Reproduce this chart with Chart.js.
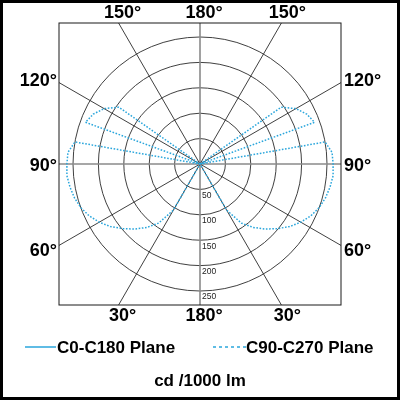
<!DOCTYPE html>
<html>
<head>
<meta charset="utf-8">
<script src="https://cdn.jsdelivr.net/npm/chart.js@4/dist/chart.umd.min.js"></script>
<style>
  html, body { margin: 0; padding: 0; background: #ffffff; }
  #wrap { width: 400px; height: 400px; }
</style>
</head>
<body>
<div id="wrap"><canvas id="polarChart" width="400" height="400"></canvas></div>
<script>
// ===================================
// Light distribution curve (cd / 1000 lm)
// Gamma angle 0 = straight down, 180 = straight up
// ===================================

// gamma angles, 5 degree steps from 0 to 180
const GAMMA = [0, 5, 10, 15, 20, 25, 30, 35, 40, 45, 50, 55, 60, 65, 70, 75, 80, 85, 90,
               95, 100, 105, 110, 115, 120, 125, 130, 135, 140, 145, 150, 155, 160, 165, 170, 175, 180];

// C90-C270 plane (dotted)
const C90_C270 = [0, 0, 0, 0, 0, 0, 105, 142, 163, 181, 198, 215, 229, 241, 250, 256, 260, 263, 262,
                  261, 250, 0, 240, 232, 218, 195, 0, 0, 0, 0, 0, 0, 0, 0, 0, 0, 0];

// C0-C180 plane (solid) - stays at the centre in the picture
const C0_C180 = [0, 0, 0, 0, 0, 0, 0, 0, 0, 0, 0, 0, 0, 0, 0, 0, 0, 0, 0,
                 0, 0, 0, 0, 0, 0, 0, 0, 0, 0, 0, 0, 0, 0, 0, 0, 0, 0];

// intensity rings
const RING_TICKS = [50, 100, 150, 200, 250];

// angle labels round the frame
const TOP_LABELS = ['150°', '180°', '150°'];
const SIDE_LABELS = ['120°', '90°', '60°'];
const BOTTOM_LABELS = ['30°', '180°', '30°'];

const SERIES_NAMES = ['C0-C180 Plane', 'C90-C270 Plane'];
const UNIT_TEXT = 'cd /1000 lm';

const CURVE_COLOR = '#2aa6dc';
const BOLD_FONT = 'bold 17px "Liberation Sans", Arial, sans-serif';

// ===================================
// Build the full circle (clockwise from top)
// right half = C90 side, left half = C270 side
// ===================================
function buildCircle(values) {
    const out = [];
    for (let i = 0; i < 72; i++) {
        const g = i <= 36 ? 180 - i * 5 : i * 5 - 180;
        out.push(values[GAMMA.indexOf(g)]);
    }
    return out;
}

const circleLabels = [];
for (let i = 0; i < 72; i++) {
    circleLabels.push(i <= 36 ? 180 - i * 5 : i * 5 - 180);
}

// ===================================
// Frame, spokes, labels and legend plugin
// ===================================
const framePlugin = {
    id: 'framePlugin',
    beforeDraw(chart) {
        const ctx = chart.ctx;
        ctx.save();
        ctx.fillStyle = '#ffffff';
        ctx.fillRect(0, 0, chart.width, chart.height);
        ctx.restore();
    },
    beforeDatasetsDraw(chart) {
        const ctx = chart.ctx;
        const r = chart.scales.r;
        const cx = r.xCenter, cy = r.yCenter;
        const half = r.drawingArea + 14;

        ctx.save();
        // spokes every 30 degrees, out to the square box
        for (let k = 0; k < 72; k += 6) {
            const a = r.getIndexAngle(k) - Math.PI / 2;
            const dx = Math.cos(a), dy = Math.sin(a);
            const t = half / Math.max(Math.abs(dx), Math.abs(dy));
            const main = k % 18 === 0;
            ctx.beginPath();
            ctx.strokeStyle = main ? '#8a8a8a' : '#2a2a2a';
            ctx.lineWidth = main ? 1.6 : 0.9;
            ctx.moveTo(cx, cy);
            ctx.lineTo(cx + dx * t, cy + dy * t);
            ctx.stroke();
        }

        // square box
        ctx.strokeStyle = '#1a1a1a';
        ctx.lineWidth = 1;
        ctx.strokeRect(cx - half, cy - half, half * 2, half * 2);

        // ring values below the centre
        ctx.fillStyle = '#222222';
        ctx.font = '8.5px "Liberation Sans", Arial, sans-serif';
        ctx.textAlign = 'left';
        ctx.textBaseline = 'middle';
        RING_TICKS.forEach(v => {
            const d = r.getDistanceFromCenterForValue(v);
            ctx.fillText(String(v), cx + 2, cy + d + 6);
        });
        ctx.restore();
    },
    afterDraw(chart) {
        const ctx = chart.ctx;
        const r = chart.scales.r;
        const cx = r.xCenter, cy = r.yCenter;
        const half = r.drawingArea + 14;
        const side = half * Math.tan(Math.PI / 6);

        ctx.save();
        ctx.fillStyle = '#000000';
        ctx.font = 'bold 18px "Liberation Sans", Arial, sans-serif';
        ctx.textBaseline = 'middle';

        // top and bottom labels
        ctx.textAlign = 'center';
        const xs = [cx - side + 4, cx + 4, cx + side + 6];
        TOP_LABELS.forEach((t, i) => ctx.fillText(t, xs[i], cy - half - 10));
        BOTTOM_LABELS.forEach((t, i) => ctx.fillText(t, xs[i], cy + half + 11));

        // side labels
        const ys = [cy - side - 2, cy + 2, cy + side + 6];
        ctx.textAlign = 'right';
        SIDE_LABELS.forEach((t, i) => ctx.fillText(t, cx - half - 2, ys[i]));
        ctx.textAlign = 'left';
        SIDE_LABELS.forEach((t, i) => ctx.fillText(t, cx + half + 3, ys[i]));

        // legend
        ctx.font = BOLD_FONT;
        ctx.strokeStyle = CURVE_COLOR;
        ctx.lineWidth = 1.5;
        ctx.beginPath();
        ctx.moveTo(25, 347);
        ctx.lineTo(56, 347);
        ctx.stroke();
        ctx.setLineDash([3, 3]);
        ctx.beginPath();
        ctx.moveTo(213, 347);
        ctx.lineTo(246, 347);
        ctx.stroke();
        ctx.setLineDash([]);
        ctx.fillText(SERIES_NAMES[0], 57, 348);
        ctx.fillText(SERIES_NAMES[1], 246, 348);

        // unit
        ctx.textAlign = 'center';
        ctx.fillText(UNIT_TEXT, 200, 381);

        // outer frame
        ctx.strokeStyle = '#000000';
        ctx.lineWidth = 3;
        ctx.strokeRect(1.5, 1.5, chart.width - 3, chart.height - 3);
        ctx.restore();
    }
};

// ===================================
// Radar chart used as a polar diagram
// ===================================
new Chart(document.getElementById('polarChart').getContext('2d'), {
    type: 'radar',
    data: {
        labels: circleLabels,
        datasets: [{
            label: SERIES_NAMES[0],
            data: buildCircle(C0_C180),
            borderColor: CURVE_COLOR,
            borderWidth: 1.5,
            pointRadius: 0,
            fill: false
        }, {
            label: SERIES_NAMES[1],
            data: buildCircle(C90_C270),
            borderColor: CURVE_COLOR,
            borderWidth: 1.5,
            borderDash: [1.6, 1.6],
            pointRadius: 0,
            fill: false
        }]
    },
    options: {
        responsive: false,
        animation: false,
        devicePixelRatio: 1,
        layout: {
            padding: { left: 73, right: 73, top: 37, bottom: 108 }
        },
        plugins: {
            legend: { display: false },
            title: { display: false },
            tooltip: { enabled: false }
        },
        elements: {
            line: { tension: 0 }
        },
        scales: {
            r: {
                min: 0,
                max: 250,
                startAngle: 0,
                ticks: { display: false, stepSize: 50 },
                grid: { circular: true, color: '#2a2a2a', lineWidth: 0.9 },
                angleLines: { display: false },
                pointLabels: { display: false }
            }
        }
    },
    plugins: [framePlugin]
});
</script>
</body>
</html>
